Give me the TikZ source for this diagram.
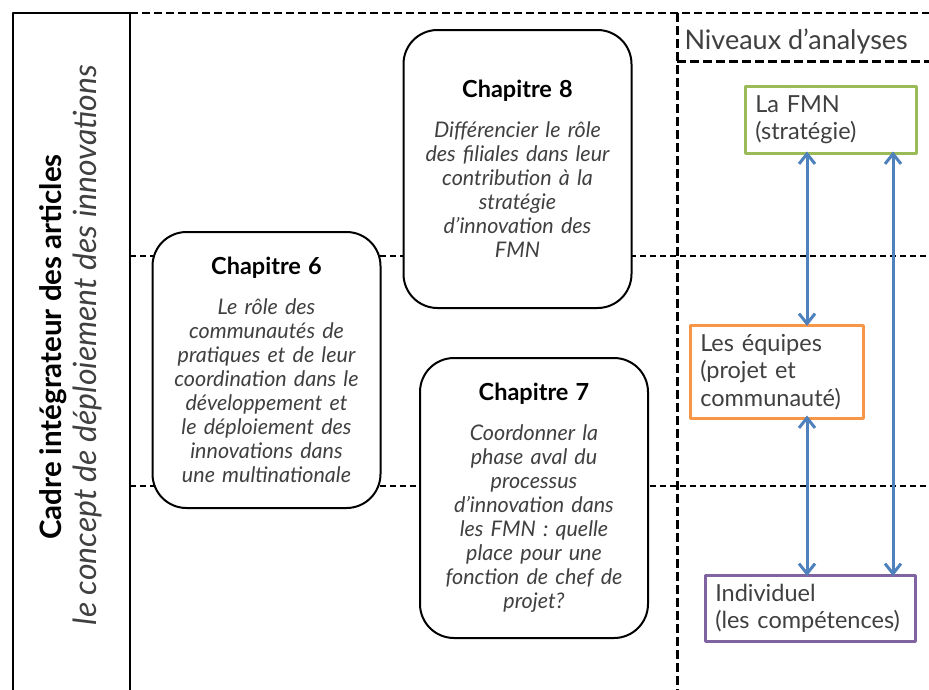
\documentclass[tikz,border=0pt]{standalone}
\usepackage{fontspec}
\setmainfont{Lato}
\usepackage{tikz}
\usetikzlibrary{arrows.meta, positioning, calc}
\definecolor{OffBlue}{RGB}{79, 129, 189}
\definecolor{OffGreen}{RGB}{155, 187, 89}
\definecolor{OffOrange}{RGB}{247, 150, 70}
\definecolor{OffPurple}{RGB}{128, 100, 162}
\definecolor{TextGray}{RGB}{64, 64, 64}
\tikzset{
    every path/.style={line cap=butt, line join=round},
    chapbox/.style={draw, fill=white, line width=2pt, rounded corners=34pt,
        minimum width=228pt, text width=224pt, align=center, inner sep=0pt,
        text=TextGray, font=\fontsize{21.5}{24}\selectfont\itshape},
    levbox/.style={draw, fill=white, line width=2.5pt, align=left, anchor=north west,
        inner xsep=10pt, inner ysep=0pt, text=TextGray,
        font=\fontsize{23.5}{27.5}\selectfont},
    levarrow/.style={OffBlue, line width=3pt, {Straight Barb[length=10pt, width=16pt, line width=3pt]}-{Straight Barb[length=10pt, width=16pt, line width=3pt]}},
    thindash/.style={line width=1.2pt, dash pattern=on 6pt off 4pt},
    thickdash/.style={line width=3pt, dash pattern=on 9pt off 4pt}
}
\newcommand{\chaptitle}[1]{{\fontsize{23.5}{24}\selectfont\upshape\bfseries\color{black}#1}\\[16pt]}

\begin{document}
\begin{tikzpicture}[x=1pt, y=-1pt]
    \useasboundingbox (0,0) rectangle (929,689);

    % frame and grid
    \draw [line width=2.5pt] (13,700) -- (13,13) -- (130,13);
    \draw [line width=2pt] (130,13) -- (130,700);
    \draw [line width=2.5pt, dash pattern=on 8pt off 4pt] (130,13) -- (929,13);
    \draw [thickdash] (677,13) -- (677,700);
    \draw [thickdash] (677,61) -- (929,61);
    \draw [thindash] (130,256) -- (929,256);
    \draw [thindash] (130,486) -- (929,486);

    % left title
    \node [rotate=90, font=\fontsize{29.5}{36}\selectfont\bfseries] (cadre) at (53,347)
        {Cadre intégrateur des articles};
    \node [rotate=90, font=\fontsize{32}{36}\selectfont\itshape, text=TextGray] (concept) at (87,345)
        {le concept de déploiement des innovations};

    \node [anchor=west, font=\fontsize{27}{30}\selectfont, text=TextGray] (niveaux) at (681,41)
        {Niveaux d’analyses};

    % chapters
    \node [chapbox, minimum height=278pt] (ch8) at (517.5,169) {
        \chaptitle{Chapitre 8}
        Différencier le rôle\\ des filiales dans leur\\ contribution à la\\ stratégie\\
        d’innovation des\\ FMN
    };
    \node [chapbox, minimum height=276pt] (ch6) at (266.5,370) {
        \chaptitle{Chapitre 6}
        Le rôle des\\ communautés de\\ pratiques et de leur\\ coordination dans le\\
        développement et\\ le déploiement des\\ innovations dans\\ une multinationale
    };
    \node [chapbox, minimum height=280pt] (ch7) at (534,498) {
        \chaptitle{Chapitre 7}
        Coordonner la\\ phase aval du\\ processus\\ d’innovation dans\\
        les FMN : quelle\\ place pour une\\ fonction de chef de\\ projet?
    };

    % levels of analysis
    \node [levbox, draw=OffGreen, text width=151pt, minimum height=67pt] (fmn) at (744,85)
        {La FMN\\(stratégie)};
    \node [levbox, draw=OffOrange, text width=153pt, minimum height=93pt] (equipes) at (689,324)
        {Les équipes\\(projet et\\communauté)};
    \node [levbox, draw=OffPurple, text width=190pt, minimum height=66pt] (indiv) at (704,574)
        {Individuel\\(les compétences)};

    \coordinate (colA) at (807,0);
    \coordinate (colB) at (893,0);
    \draw [levarrow] ([yshift=3pt]fmn.south -| colA) -- ([yshift=-2pt]equipes.north -| colA);
    \draw [levarrow] ([yshift=4pt]equipes.south -| colA) -- ([yshift=-2pt]indiv.north -| colA);
    \draw [levarrow] ([yshift=3pt]fmn.south -| colB) -- ([yshift=-2pt]indiv.north -| colB);
\end{tikzpicture}
\end{document}
